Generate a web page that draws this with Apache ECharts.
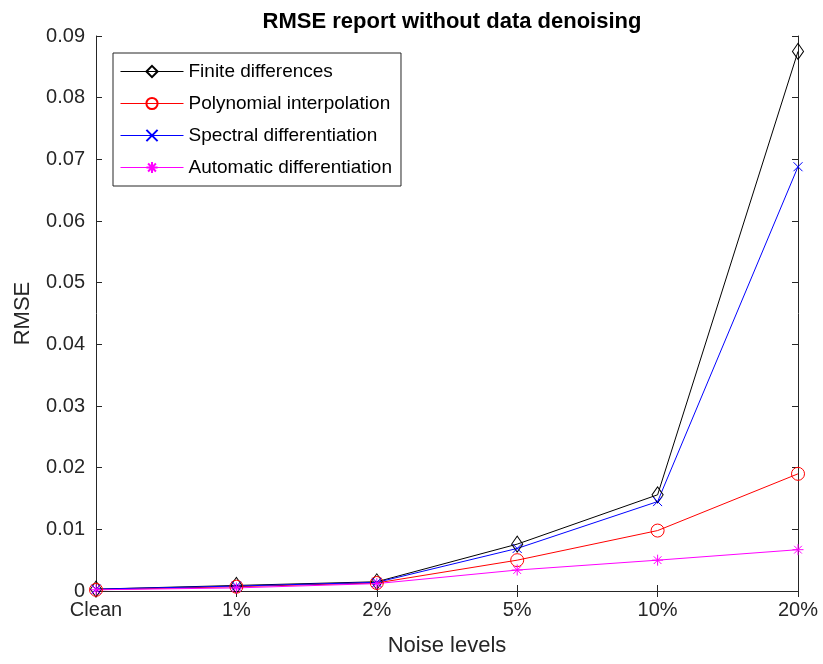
<!DOCTYPE html>
<html>
<head>
<meta charset="utf-8">
<script src="https://cdn.jsdelivr.net/npm/echarts@6/dist/echarts.min.js"></script>
<style>
  html, body { margin: 0; padding: 0; background: #fff; }
  #chart { width: 823px; height: 664px; }
</style>
</head>
<body>
<div id="chart"></div>
<script>
// Noise levels on the x axis
const noiseLevels = ['Clean', '1%', '2%', '5%', '10%', '20%'];

// RMSE per method at each noise level
const finiteDifferences = [0.0003, 0.0009, 0.0015, 0.0076, 0.0156, 0.0875];
const polynomialInterpolation = [0.0002, 0.0007, 0.0013, 0.0050, 0.0098, 0.0190];
const spectralDifferentiation = [0.0003, 0.0008, 0.0014, 0.0069, 0.0145, 0.0688];
const automaticDifferentiation = [0.0002, 0.0005, 0.0012, 0.0034, 0.0050, 0.0067];

// y tick labels, one per 0.01 step
const yTickLabels = ['0', '0.01', '0.02', '0.03', '0.04', '0.05', '0.06', '0.07', '0.08', '0.09'];

const FONT = '"Liberation Sans", Arial, Helvetica, sans-serif';
const AXIS_COLOR = '#262626';

// Stroke-only marker shapes
const crossPath = 'path://M0,0L10,10M10,0L0,10';
const starPath = 'path://M5,0L5,10M0,5L10,5M1.5,1.5L8.5,8.5M8.5,1.5L1.5,8.5';
const diamondPath = 'path://M6,0L12,7L6,14L0,7Z';

function makeSeries(name, data, color, symbol, size) {
  return {
    name: name,
    type: 'line',
    data: data,
    symbol: symbol,
    symbolSize: size,
    symbolKeepAspect: true,
    showAllSymbol: true,
    lineStyle: { color: color, width: 1 },
    itemStyle: { color: 'none', borderColor: color, borderWidth: 1 },
    emphasis: { disabled: true },
    z: 3
  };
}

const chart = echarts.init(document.getElementById('chart'), null, { renderer: 'canvas' });

const axisLine = { show: true, lineStyle: { color: AXIS_COLOR, width: 1 } };
const tickInside = { show: true, inside: true, length: 6, lineStyle: { color: AXIS_COLOR, width: 1 } };

chart.setOption({
  animation: false,
  backgroundColor: '#fff',
  title: {
    text: 'RMSE report without data denoising',
    left: 447,
    textAlign: 'center',
    top: 6,
    textStyle: { fontFamily: FONT, fontSize: 22, fontWeight: 'bold', color: '#000' }
  },
  grid: { left: 96, right: 25, top: 36, bottom: 73, containLabel: false },
  legend: {
    orient: 'vertical',
    left: 113,
    top: 53,
    padding: [9, 9, 9, 7],
    itemWidth: 63,
    itemHeight: 14,
    itemGap: 13,
    backgroundColor: '#fff',
    borderColor: AXIS_COLOR,
    borderWidth: 1,
    lineStyle: { width: 1 },
    textStyle: { fontFamily: FONT, fontSize: 19, color: '#000' },
    data: ['Finite differences', 'Polynomial interpolation', 'Spectral differentiation', 'Automatic differentiation']
  },
  xAxis: [
    {
      type: 'category',
      data: noiseLevels,
      boundaryGap: false,
      position: 'bottom',
      name: 'Noise levels',
      nameLocation: 'middle',
      nameGap: 44,
      nameTextStyle: { fontFamily: FONT, fontSize: 22, color: AXIS_COLOR },
      axisLine: axisLine,
      axisTick: tickInside,
      axisLabel: { fontFamily: FONT, fontSize: 20, color: AXIS_COLOR, margin: 9 },
      splitLine: { show: false }
    },
    {
      type: 'category',
      data: noiseLevels,
      boundaryGap: false,
      position: 'top',
      axisLine: axisLine,
      axisTick: tickInside,
      axisLabel: { show: false },
      splitLine: { show: false }
    }
  ],
  yAxis: [
    {
      type: 'value',
      min: 0,
      max: 0.09,
      interval: 0.01,
      position: 'left',
      name: 'RMSE',
      nameLocation: 'middle',
      nameGap: 62,
      nameTextStyle: { fontFamily: FONT, fontSize: 22, color: AXIS_COLOR },
      axisLine: axisLine,
      axisTick: tickInside,
      axisLabel: {
        fontFamily: FONT, fontSize: 20, color: AXIS_COLOR, margin: 11,
        formatter: function (v) { return yTickLabels[Math.round(v / 0.01)]; }
      },
      splitLine: { show: false }
    },
    {
      type: 'value',
      min: 0,
      max: 0.09,
      interval: 0.01,
      position: 'right',
      axisLine: axisLine,
      axisTick: tickInside,
      axisLabel: { show: false },
      splitLine: { show: false }
    }
  ],
  series: [
    makeSeries('Finite differences', finiteDifferences, '#000000', diamondPath, [13, 16]),
    makeSeries('Polynomial interpolation', polynomialInterpolation, '#ff0000', 'circle', 13),
    makeSeries('Spectral differentiation', spectralDifferentiation, '#0000ff', crossPath, 9),
    makeSeries('Automatic differentiation', automaticDifferentiation, '#ff00ff', starPath, 11)
  ]
});
</script>
</body>
</html>
